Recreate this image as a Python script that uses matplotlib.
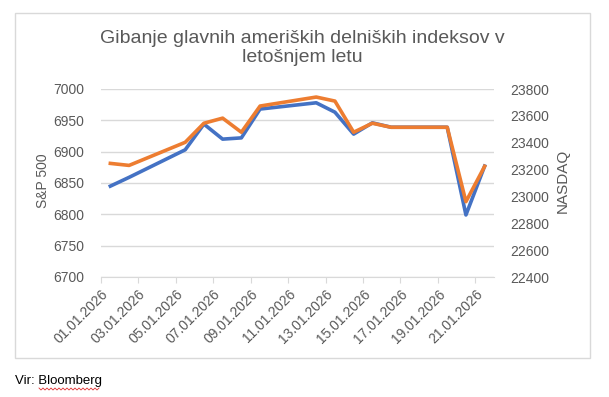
import numpy as np
import pandas as pd
import matplotlib
matplotlib.use("Agg")
import matplotlib.pyplot as plt
from matplotlib.patches import Rectangle
from matplotlib.lines import Line2D

plt.rcParams['font.family'] = ['Liberation Sans', 'DejaVu Sans']

# Podatki (odčitani z grafa)
dates = ['01.01.2026', '02.01.2026', '05.01.2026', '06.01.2026', '07.01.2026',
         '08.01.2026', '09.01.2026', '12.01.2026', '13.01.2026', '14.01.2026',
         '15.01.2026', '16.01.2026', '19.01.2026', '20.01.2026', '21.01.2026']
sp500 = [6845, 6859, 6903, 6944, 6920, 6922, 6968, 6978, 6963, 6928,
         6946, 6939, 6939, 6799, 6877]
nasdaq = [23246, 23231, 23403, 23545, 23583, 23478, 23673, 23740, 23710, 23478,
          23545, 23515, 23515, 22961, 23224]
tick_labels = ['01.01.2026', '03.01.2026', '05.01.2026', '07.01.2026', '09.01.2026',
               '11.01.2026', '13.01.2026', '15.01.2026', '17.01.2026', '19.01.2026',
               '21.01.2026']

TXT = '#595959'
GRID = '#d9d9d9'

# dan v mesecu, točka na sredini dneva (kot Excelova datumska os)
days = pd.to_datetime(dates, format='%d.%m.%Y').day.values + 0.5
tick_pos = pd.to_datetime(tick_labels, format='%d.%m.%Y').day.values

fig = plt.figure(figsize=(6.09, 3.97), dpi=100)
fig.patch.set_facecolor('white')

# okvir grafa
fig.add_artist(Rectangle((15 / 609, 1 - 358 / 397), 575 / 609, 345 / 397,
                         transform=fig.transFigure, fill=False, edgecolor=GRID, lw=1))

ax = fig.add_axes([101 / 609, 1 - 277 / 397, 393 / 609, 188 / 397])
ax2 = ax.twinx()

ax.plot(days, sp500, color='#4472C4', lw=2.6, solid_joinstyle='round', zorder=3)
ax2.plot(days, nasdaq, color='#ED7D31', lw=2.6, solid_joinstyle='round', zorder=3)

ax.set_xlim(1, 22)
ax.set_ylim(6700, 7000)
ax.set_yticks(np.arange(6700, 7001, 50))
ax2.set_ylim(22400, 23800)
ax2.set_yticks(np.arange(22400, 23801, 200))

ax.set_xticks(tick_pos)
ax.set_xticklabels(tick_labels, rotation=45, ha='right', rotation_mode='anchor')
ax.grid(axis='y', color=GRID, lw=1)
ax.set_axisbelow(True)

for a in (ax, ax2):
    for s in ('top', 'left', 'right'):
        a.spines[s].set_visible(False)
    a.spines['bottom'].set_color(GRID)
ax2.spines['bottom'].set_visible(False)

ax.tick_params(axis='x', colors=GRID, labelcolor=TXT, labelsize=10, length=4, pad=3)
ax.tick_params(axis='y', length=0, labelcolor=TXT, labelsize=10, pad=12)
ax2.tick_params(axis='y', length=0, labelcolor=TXT, labelsize=10, pad=12)

ax.set_ylabel('S&P 500', color=TXT, fontsize=10)
ax2.set_ylabel('NASDAQ', color=TXT, fontsize=11)
ax.yaxis.set_label_coords(-0.13, 0.51)
ax2.yaxis.set_label_coords(1.158, 0.51)

fig.text(302 / 609, 1 - 48 / 397, 'Gibanje glavnih ameriških delniških indeksov v\nletošnjem letu',
         ha='center', va='center', fontsize=14, color=TXT, linespacing=1.2)

fig.text(15 / 609, 1 - 381 / 397, 'Vir: Bloomberg', ha='left', va='center', fontsize=9.5, color='black')
# rdeča valovita črta (črkovalnik)
wx = np.arange(39, 101, 2)
wy = np.where(np.arange(len(wx)) % 2 == 0, 388, 390)
fig.add_artist(Line2D(wx / 609, 1 - wy / 397, transform=fig.transFigure, color='#e03030', lw=0.6))

fig.savefig('out.png', dpi=100, facecolor='white')
